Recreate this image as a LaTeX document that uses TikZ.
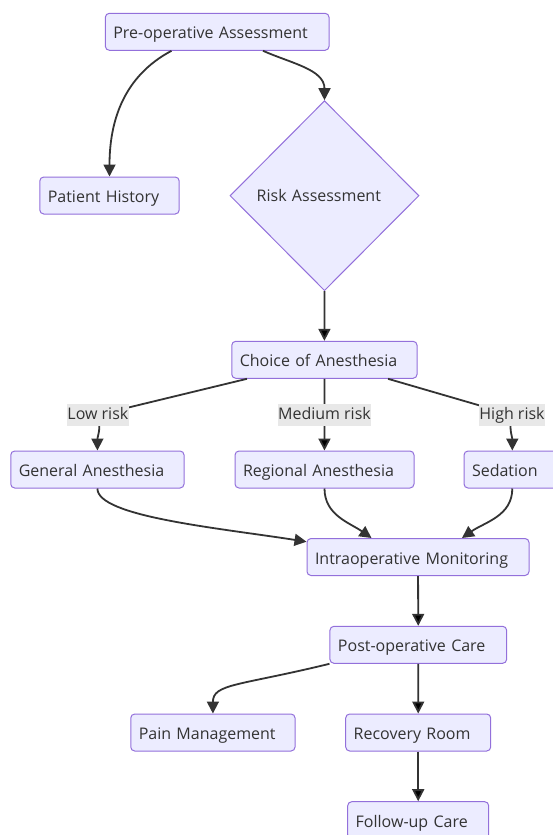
\documentclass[tikz,border=0pt]{standalone}
\usepackage{fontspec}
\setmainfont{Open Sans}
\usetikzlibrary{shapes.geometric,arrows.meta}
\definecolor{boxfill}{HTML}{ECECFF}
\definecolor{boxline}{HTML}{9370DB}
\definecolor{ink}{HTML}{333333}
\definecolor{lblfill}{HTML}{E8E8E8}

\begin{document}
\begin{tikzpicture}[x=1pt,y=1pt,
    every node/.style={text=ink,font=\fontsize{16pt}{19pt}\selectfont},
    box/.style={draw=boxline,fill=boxfill,line width=1pt,rounded corners=4pt,minimum height=37pt,
        inner xsep=8pt,text height=17.5pt,text depth=3.5pt,align=left,text width=#1},
    decision/.style={diamond,draw=boxline,fill=boxfill,line width=1pt,minimum width=189pt,
        minimum height=190pt,inner sep=0pt,text height=15pt,text depth=3pt,text width=135.6pt,align=left},
    lbl/.style={fill=lblfill,inner xsep=0.5pt,inner ysep=1.75pt,text height=13.5pt,text depth=4.7pt},
    flow/.style={draw=ink,line width=1.8pt,-{Triangle[length=12pt,width=12pt]}}]
    \fill[white] (0,0) rectangle (552,-835);
    \useasboundingbox (0,0) rectangle (552,-835);

    \node[box=207.7pt] (pre) at (217.2,-31.8) {Pre-operative Assessment};
    \node[box=123.4pt] (hist) at (109.5,-195.5) {Patient History};
    \node[decision] (risk) at (324.5,-195.7) {Risk Assessment};
    \node[box=169.3pt] (choice) at (324.4,-359.8) {Choice of Anesthesia};

    \node[box=157.3pt] (gen) at (97.4,-469.5) {General Anesthesia};
    \node[box=163pt] (reg) at (324.5,-469.5) {Regional Anesthesia};
    \node[box=80.6pt] (sed) at (512.3,-469.5) {Sedation};

    \node[box=206pt] (intra) at (418,-557) {Intraoperative Monitoring};
    \node[box=160.7pt] (post) at (418.3,-644.8) {Post-operative Care};
    \node[box=148.3pt] (pain) at (212.9,-732.5) {Pain Management};
    \node[box=129pt] (rec) at (418.2,-732.5) {Recovery Room};
    \node[box=125pt] (follow) at (418.2,-820.2) {Follow-up Care};

    \draw [flow] ([xshift=-45.7pt]pre.south) to[out=-152,in=90] (hist.north);
    \draw [flow] ([xshift=45.8pt]pre.south) to[out=-24,in=90] (risk.north);
    \path [flow] (risk) edge (choice);

    \draw [flow] ([xshift=-77.4pt]choice.south) -- (97.9,-414.9) node[lbl] (low) {Low risk}
        to[out=-75,in=90] (gen.north);
    \path [flow] (choice) edge node[lbl] (mid) {Medium risk} (reg);
    \draw [flow] ([xshift=63.6pt]choice.south) -- (512,-414.9) node[lbl] (high) {High risk}
        to[out=-105,in=90] (sed.north);

    \draw [flow] (gen.south) .. controls +(0,-28) and +(-90,14) .. ([yshift=-3.7pt]intra.north west);
    \draw [flow] (reg.south) to[out=-90,in=145] ([xshift=-46.5pt]intra.north);
    \draw [flow] (sed.south) to[out=-90,in=35] ([xshift=44pt]intra.north);

    \path [flow] (intra) edge (post);
    \draw [flow] (post.south west) .. controls +(-90,-22) and +(0,30) .. (pain.north);
    \path [flow] (post) edge (rec);
    \path [flow] (rec) edge (follow);
\end{tikzpicture}
\end{document}
